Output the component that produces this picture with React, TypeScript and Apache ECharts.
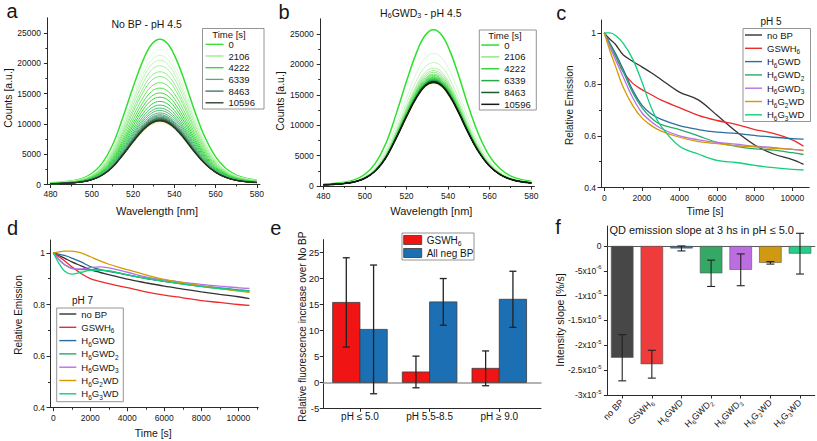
import React, { useEffect, useRef } from 'react';
import * as echarts from 'echarts';

const FONT = '"Liberation Sans", Arial, Helvetica, sans-serif';
const INK = '#161616';
const AXIS = '#2a2a2a';

// ---------- panels a & b : emission spectra ----------
const wavelengths = [480, 485, 490, 495, 500, 505, 510, 515, 520, 525, 529, 533, 537, 541, 545, 550, 555, 560, 565, 570, 575, 580];
const spectrumShape = [0.012, 0.016, 0.024, 0.04, 0.075, 0.145, 0.27, 0.46, 0.67, 0.86, 0.965, 1.0, 0.965, 0.86, 0.71, 0.5, 0.32, 0.19, 0.11, 0.065, 0.042, 0.03];
const wavelengthTicks = [480, 500, 520, 540, 560, 580];
const countTicks = [0, 5000, 10000, 15000, 20000, 25000];
const legendTimes = ['0', '2106', '4222', '6339', '8463', '10596'];
const peaksNoBP = [23960, 22200, 21300, 20500, 19600, 18600, 17800, 16800, 15900, 15100, 14400, 13700, 13100, 12600, 12200, 11800, 11500, 11300, 11100, 10950, 10850, 10750, 10650, 10600, 10550, 10500];
const peaksNoBPLate = [10400, 10300, 10200];
const peaksGWD3 = [25700, 21800, 20300, 19400, 19000, 18700, 18400, 18200, 18000, 17850, 17700, 17600, 17500, 17450, 17400, 17350, 17300, 17250, 17200, 17180, 17150, 17120, 17100, 17080, 17060, 17050];
const peaksGWD3Late = [16900, 16800];

// ---------- panels c & d : relative emission vs time ----------
const compounds = ['no BP', 'GSWH6', 'H6GWD', 'H6GWD2', 'H6GWD3', 'H6G2WD', 'H6G3WD'];
const timeS = [0, 300, 600, 1000, 1500, 2000, 2500, 3000, 4000, 5000, 6000, 7000, 8000, 9000, 10000, 10600];
const timeTicks = [0, 2000, 4000, 6000, 8000, 10000];
const emissionTicks = [0.4, 0.6, 0.8, 1];

const ph5NoBP = [1, 0.975, 0.955, 0.915, 0.89, 0.868, 0.845, 0.82, 0.77, 0.74, 0.68, 0.618, 0.565, 0.53, 0.508, 0.49];
const ph5GSWH6 = [1, 0.955, 0.91, 0.85, 0.805, 0.78, 0.76, 0.74, 0.71, 0.68, 0.66, 0.645, 0.625, 0.61, 0.585, 0.56];
const ph5H6GWD = [1, 0.96, 0.92, 0.86, 0.78, 0.72, 0.685, 0.665, 0.64, 0.625, 0.615, 0.61, 0.602, 0.595, 0.59, 0.588];
const ph5H6GWD2 = [1, 0.955, 0.91, 0.85, 0.77, 0.71, 0.67, 0.645, 0.625, 0.6, 0.575, 0.56, 0.55, 0.545, 0.535, 0.528];
const ph5H6GWD3 = [1, 0.945, 0.895, 0.83, 0.75, 0.69, 0.655, 0.63, 0.6, 0.585, 0.575, 0.568, 0.56, 0.555, 0.548, 0.543];
const ph5H6G2WD = [1, 0.93, 0.87, 0.79, 0.72, 0.67, 0.64, 0.62, 0.595, 0.578, 0.57, 0.562, 0.558, 0.552, 0.548, 0.545];
const ph5H6G3WD = [1, 1.0, 0.99, 0.96, 0.9, 0.81, 0.71, 0.64, 0.56, 0.53, 0.505, 0.497, 0.486, 0.477, 0.47, 0.468];

const ph7NoBP = [1, 0.99, 0.98, 0.965, 0.95, 0.935, 0.925, 0.916, 0.898, 0.884, 0.871, 0.86, 0.849, 0.839, 0.83, 0.823];
const ph7GSWH6 = [1, 0.985, 0.97, 0.946, 0.92, 0.9, 0.89, 0.881, 0.865, 0.849, 0.836, 0.826, 0.815, 0.808, 0.8, 0.797];
const ph7H6GWD = [1, 0.995, 0.99, 0.98, 0.965, 0.947, 0.936, 0.928, 0.915, 0.902, 0.89, 0.88, 0.872, 0.864, 0.857, 0.853];
const ph7H6GWD2 = [1, 0.975, 0.955, 0.94, 0.935, 0.935, 0.933, 0.93, 0.915, 0.9, 0.89, 0.88, 0.87, 0.862, 0.855, 0.851];
const ph7H6GWD3 = [1, 0.975, 0.955, 0.94, 0.938, 0.943, 0.946, 0.942, 0.925, 0.907, 0.895, 0.886, 0.878, 0.871, 0.865, 0.862];
const ph7H6G2WD = [1, 1.004, 1.007, 1.007, 1.0, 0.985, 0.97, 0.956, 0.935, 0.915, 0.897, 0.884, 0.872, 0.862, 0.852, 0.847];
const ph7H6G3WD = [1, 0.96, 0.93, 0.918, 0.925, 0.932, 0.933, 0.93, 0.915, 0.902, 0.89, 0.879, 0.87, 0.862, 0.856, 0.853];

// ---------- panel e ----------
const phGroups = ['pH ≤ 5.0', 'pH 5.5-8.5', 'pH ≥ 9.0'];
const increaseTicks = [-5, 0, 5, 10, 15, 20, 25];
const gswhIncrease = [15.4, 2.0, 2.7];
const gswhIncreaseErr = [8.6, 3.05, 3.35];
const negBpIncrease = [10.2, 15.5, 16.0];
const negBpIncreaseErr = [12.4, 4.5, 5.4];

// ---------- panel f ----------
const slopeTicks = [0, -5e-6, -1e-5, -1.5e-5, -2e-5, -2.5e-5, -3e-5];
const slopes = [-2.25e-5, -2.38e-5, -0.05e-5, -0.55e-5, -0.48e-5, -0.34e-5, -0.155e-5];
const slopeErr = [0.465e-5, 0.28e-5, 0.05e-5, 0.265e-5, 0.32e-5, 0.025e-5, 0.41e-5];

// ---------- styles ----------
const compoundColors = ['#333333', '#ee2a2a', '#2a6e9e', '#2aa865', '#b670e8', '#d69a00', '#13cf7c'];
const barColors = ['#474747', '#ee3b3b', '#2a78c2', '#36a865', '#bc6ee0', '#cf9a12', '#25cc8a'];
const aColors = ['#2fe02f', '#e4fbe0', '#d2f7cc', '#bff3b8', '#a8efa2', '#93ec8c', '#7ee877', '#68e462', '#52e04e', '#3edc3e', '#2bd92f', '#33d04c', '#3cc75c', '#45be6a', '#4cb574', '#52ad7a', '#4ea276', '#48976e', '#428a66', '#3c7e5d', '#367255', '#30654a', '#2b5840', '#264b37', '#213e2e', '#263326'];
const bColors = ['#2be22b', '#d8f8d2', '#c4f3bc', '#b2efaa', '#a1ec98', '#8fe888', '#7ae477', '#66e065', '#55dc55', '#48d84a', '#3ad540', '#33cf45', '#2fc647', '#2cbd48', '#2ab349', '#28a948', '#269b45', '#238c41', '#1f7c3b', '#1b6c35', '#175c2e', '#164a28', '#153a22', '#14301d', '#142618', '#141a14'];
const lateColors = ['#f6f6c4', '#f3f3b8', '#f0f0ac'];

const toRich = (n: string) => n.replace(/([A-Z])(\d)/g, '$1{sub|$2}');
const subStyle = (fs: number) => ({ fontSize: fs * 0.68, fontFamily: FONT, color: INK, verticalAlign: 'bottom' });

function valueAxis(o: any) {
  return {
    type: 'value',
    gridIndex: o.g,
    min: o.min,
    max: o.max,
    interval: o.interval,
    position: o.position,
    axisLine: { show: true, onZero: false, lineStyle: { color: AXIS, width: 1 } },
    axisTick: { show: true, length: 3.5, customValues: o.ticks, lineStyle: { color: AXIS, width: 1 } },
    minorTick: { show: !!o.minor, splitNumber: 2, length: 2, lineStyle: { color: AXIS, width: 1 } },
    splitLine: { show: false },
    minorSplitLine: { show: false },
    axisLabel: {
      show: true,
      customValues: o.ticks,
      fontFamily: FONT,
      fontSize: o.fs,
      color: INK,
      margin: o.margin,
      formatter: o.formatter || ((v: number) => String(v)),
      rich: o.rich,
      lineHeight: o.lineHeight,
    },
  };
}

function spectrumSeries(g: number, name: string, peak: number, color: string, width: number) {
  return {
    type: 'line',
    name,
    xAxisIndex: g,
    yAxisIndex: g,
    data: wavelengths.map((w, k) => [w, Math.round(spectrumShape[k] * peak)]),
    smooth: 0.4,
    symbol: 'none',
    showSymbol: false,
    silent: true,
    lineStyle: { color, width },
    itemStyle: { color },
    emphasis: { disabled: true },
  };
}

function kineticSeries(g: number, prefix: string, rows: number[][]) {
  return compounds.map((c, i) => ({
    type: 'line',
    name: `${prefix}|${c}`,
    xAxisIndex: g,
    yAxisIndex: g,
    data: timeS.map((t, k) => [t, rows[i][k]]),
    smooth: 0.35,
    symbol: 'none',
    showSymbol: false,
    silent: true,
    lineStyle: { color: compoundColors[i], width: 1.3 },
    itemStyle: { color: compoundColors[i] },
    emphasis: { disabled: true },
  }));
}

const errLines = (cx: number, lo: number, hi: number, cap: number, color: string, w: number) => [
  { type: 'line', shape: { x1: cx, y1: lo, x2: cx, y2: hi }, style: { stroke: color, lineWidth: w } },
  { type: 'line', shape: { x1: cx - cap, y1: lo, x2: cx + cap, y2: lo }, style: { stroke: color, lineWidth: w } },
  { type: 'line', shape: { x1: cx - cap, y1: hi, x2: cx + cap, y2: hi }, style: { stroke: color, lineWidth: w } },
];

const groupedBarRender = (offset: number, fill: string) => (params: any, api: any) => {
  const x = api.value(0);
  const v = api.value(1);
  const e = api.value(2);
  const base = api.coord([x, 0]);
  const top = api.coord([x, v]);
  const lo = api.coord([x, v - e]);
  const hi = api.coord([x, v + e]);
  const w = 27.3;
  const cx = base[0] + offset;
  return {
    type: 'group',
    children: [
      { type: 'rect', shape: { x: cx - w / 2, y: Math.min(base[1], top[1]), width: w, height: Math.abs(base[1] - top[1]) }, style: { fill, stroke: '#3a3a3a', lineWidth: 0.8 } },
      ...errLines(cx, lo[1], hi[1], 3.5, '#222', 1.3),
    ],
  };
};

const errorRender = (params: any, api: any) => {
  const x = api.value(0);
  const v = api.value(1);
  const e = api.value(2);
  const lo = api.coord([x, v - e]);
  const hi = api.coord([x, v + e]);
  return { type: 'group', children: errLines(lo[0], lo[1], hi[1], 4, '#222', 1.1) };
};

function T(text: string, x: number, y: number, fs: number, opt: any = {}) {
  return {
    type: 'text',
    x,
    y,
    rotation: opt.rot ? Math.PI / 2 : 0,
    silent: true,
    z: 10,
    style: {
      text,
      fontFamily: FONT,
      fontSize: fs,
      fill: INK,
      align: 'center',
      verticalAlign: 'middle',
      textAlign: 'center',
      textVerticalAlign: 'middle',
      lineHeight: opt.lh,
      rich: opt.rich,
    },
  };
}

const box = (x: number, y: number, w: number, h: number) => ({
  type: 'rect',
  z: 3,
  silent: true,
  shape: { x, y, width: w, height: h },
  style: { fill: '#ffffff', stroke: '#7a7a7a', lineWidth: 0.8 },
});

function legendBase(left: number, top: number, lh: number, names: string[], iw: number, ih: number, fs: number, extra: any = {}) {
  return {
    show: true,
    selectedMode: false,
    orient: 'vertical',
    left,
    top,
    padding: 0,
    itemGap: 0,
    itemWidth: iw,
    itemHeight: ih,
    icon: 'rect',
    z: 6,
    data: names,
    formatter: (n: string) => toRich(n.split('|')[1]),
    textStyle: { fontFamily: FONT, fontSize: fs, color: INK, lineHeight: lh, rich: { sub: subStyle(fs) } },
    ...extra,
  };
}

function buildOption() {
  const grid = [
    { left: 47.4, top: 17.8, width: 212.6, height: 166.7 },
    { left: 320.2, top: 18.8, width: 214.2, height: 167.2 },
    { left: 601, top: 20, width: 208.2, height: 167.5 },
    { left: 50, top: 240, width: 208.3, height: 167.7 },
    { left: 323.3, top: 239.6, width: 217.7, height: 168.7 },
    { left: 607.4, top: 226.1, width: 207.4, height: 168.9 },
  ];

  const xAxis: any[] = [
    valueAxis({ g: 0, min: 478.5, max: 581.5, ticks: wavelengthTicks, fs: 8.5, margin: 5, minor: true }),
    valueAxis({ g: 1, min: 478.5, max: 581.5, ticks: wavelengthTicks, fs: 8.5, margin: 5, minor: true }),
    valueAxis({ g: 2, min: -175, max: 10900, ticks: timeTicks, fs: 8.5, margin: 5.5, minor: true }),
    valueAxis({ g: 3, min: -178, max: 11080, ticks: timeTicks, fs: 8.5, margin: 5.5, minor: true }),
    valueAxis({ g: 4, min: -0.526, max: 2.599, ticks: [0, 1, 2], fs: 10, margin: 3, position: 'bottom', formatter: (v: number) => phGroups[Math.round(v)] }),
    {
      type: 'category',
      gridIndex: 5,
      data: compounds,
      position: 'bottom',
      axisLine: { show: true, onZero: false, lineStyle: { color: AXIS, width: 1 } },
      axisTick: { show: true, alignWithLabel: true, length: 3.5, lineStyle: { color: AXIS } },
      splitLine: { show: false },
      axisLabel: { interval: 0, rotate: 45, fontFamily: FONT, fontSize: 9, color: INK, margin: 6, lineHeight: 11.5, formatter: (v: string) => toRich(v), rich: { sub: subStyle(9) } },
    },
    {
      type: 'value', gridIndex: 4, min: -0.526, max: 2.599, position: 'top',
      axisLine: { show: true, onZero: true, lineStyle: { color: '#9a9a9a', width: 1.5 } },
      axisTick: { show: false }, axisLabel: { show: false }, splitLine: { show: false },
    },
    {
      type: 'category', gridIndex: 5, data: compounds, position: 'top',
      axisLine: { show: true, onZero: true, lineStyle: { color: '#5a5a5a', width: 1 } },
      axisTick: { show: false }, axisLabel: { show: false }, splitLine: { show: false },
    },
  ];

  const yAxis: any[] = [
    valueAxis({ g: 0, min: 0, max: 27500, ticks: countTicks, fs: 8.5, margin: 6.5, minor: true }),
    valueAxis({ g: 1, min: 0, max: 27500, ticks: countTicks, fs: 8.5, margin: 6.5, minor: true }),
    valueAxis({ g: 2, min: 0.4, max: 1.05, interval: 0.2, ticks: emissionTicks, fs: 8.5, margin: 5, minor: true }),
    valueAxis({ g: 3, min: 0.4, max: 1.05, interval: 0.2, ticks: emissionTicks, fs: 8.5, margin: 5, minor: true }),
    valueAxis({ g: 4, min: -5, max: 27.5, interval: 5, ticks: increaseTicks, fs: 9.5, margin: 4 }),
    valueAxis({
      g: 5, min: -3e-5, max: 4e-6, interval: 5e-6, ticks: slopeTicks, fs: 8.5, margin: 6, lineHeight: 13,
      formatter: (v: number) => {
        const k = Math.round(v * 1e6);
        if (k === 0) return '0';
        if (k === -5) return '-5x10{sup|-6}';
        return `${k / 10}x10{sup|-5}`;
      },
      rich: { sup: { fontSize: 5.8, fontFamily: FONT, color: INK, verticalAlign: 'top' } },
    }),
  ];

  const series: any[] = [];
  // panel a
  peaksNoBPLate.forEach((p, k) => series.push(spectrumSeries(0, `a|late${k}`, p, lateColors[k], 1)));
  peaksNoBP.forEach((p, i) => {
    const name = i % 5 === 0 ? `a|${legendTimes[i / 5]}` : `a|t${i}`;
    series.push(spectrumSeries(0, name, p, aColors[i], i === 0 ? 1.5 : i === 25 ? 1.3 : 1));
  });
  // panel b
  peaksGWD3Late.forEach((p, k) => series.push(spectrumSeries(1, `b|late${k}`, p, lateColors[k], 1)));
  peaksGWD3.forEach((p, i) => {
    const name = i % 5 === 0 ? `b|${legendTimes[i / 5]}` : `b|t${i}`;
    series.push(spectrumSeries(1, name, p, bColors[i], i === 0 ? 1.5 : i === 25 ? 1.6 : 1));
  });
  // panels c, d
  series.push(...kineticSeries(2, 'c', [ph5NoBP, ph5GSWH6, ph5H6GWD, ph5H6GWD2, ph5H6GWD3, ph5H6G2WD, ph5H6G3WD]));
  series.push(...kineticSeries(3, 'd', [ph7NoBP, ph7GSWH6, ph7H6GWD, ph7H6GWD2, ph7H6GWD3, ph7H6G2WD, ph7H6G3WD]));
  // panel e
  series.push({
    type: 'custom', name: 'e|GSWH6', xAxisIndex: 4, yAxisIndex: 4, silent: true, clip: false,
    itemStyle: { color: '#f01414' },
    data: phGroups.map((_, i) => [i, gswhIncrease[i], gswhIncreaseErr[i]]),
    renderItem: groupedBarRender(-13.65, '#f01414'),
  });
  series.push({
    type: 'custom', name: 'e|All neg BP', xAxisIndex: 4, yAxisIndex: 4, silent: true, clip: false,
    itemStyle: { color: '#1d6fb3' },
    data: phGroups.map((_, i) => [i, negBpIncrease[i], negBpIncreaseErr[i]]),
    renderItem: groupedBarRender(13.65, '#1d6fb3'),
  });
  // panel f
  series.push({
    type: 'bar', name: 'f|slope', xAxisIndex: 5, yAxisIndex: 5, barWidth: 22.5, silent: true,
    data: slopes.map((v, i) => ({ value: v, itemStyle: { color: barColors[i], borderColor: '#555', borderWidth: 0.6 } })),
    emphasis: { disabled: true },
  });
  series.push({
    type: 'custom', name: 'f|err', xAxisIndex: 5, yAxisIndex: 5, silent: true, clip: false, z: 5,
    data: slopes.map((v, i) => [i, v, slopeErr[i]]),
    renderItem: errorRender,
  });

  const legend = [
    legendBase(205.5, 38.45, 11.7, legendTimes.map((t) => `a|${t}`), 18, 1.3, 9.5),
    legendBase(481.3, 39.1, 11.86, legendTimes.map((t) => `b|${t}`), 18, 1.5, 9.5),
    legendBase(745, 28.35, 13.3, compounds.map((c) => `c|${c}`), 17, 1.4, 9.5),
    legendBase(59.3, 307.35, 13.3, compounds.map((c) => `d|${c}`), 17, 1.4, 9.5),
    legendBase(403.3, 233.5, 13, [], 18, 9, 10, {
      data: [
        { name: 'e|GSWH6', icon: 'rect', itemStyle: { color: '#f01414', borderColor: '#3a3a3a', borderWidth: 0.8 } },
        { name: 'e|All neg BP', icon: 'rect', itemStyle: { color: '#1d6fb3', borderColor: '#3a3a3a', borderWidth: 0.8 } },
      ],
    }),
  ];

  const rich10 = { sub: subStyle(10.5) };
  const graphic = [
    box(202.5, 28.5, 61.5, 80.5),
    box(479.3, 30, 57, 80),
    box(743, 28.5, 67.5, 93),
    box(56.7, 308, 66.6, 93.7),
    box(402, 233, 72, 27),
    T('a', 12, 11, 20),
    T('b', 284, 11.7, 20),
    T('c', 561.3, 12.5, 20),
    T('d', 12.5, 227.5, 20),
    T('e', 275.8, 228.3, 20),
    T('f', 558, 226.7, 20),
    T('No BP - pH 4.5', 146.7, 24.3, 10.5),
    T('H{sub|6}GWD{sub|3} - pH 4.5', 420.8, 13.3, 10.5, { lh: 13, rich: rich10 }),
    T('QD emission slope at 3 hs in pH ≤ 5.0', 701.7, 230, 11),
    T('Wavelength [nm]', 157, 210.7, 11),
    T('Counts [a.u.]', 7.5, 98, 10.5, { rot: true }),
    T('Wavelength [nm]', 431.3, 210.7, 11),
    T('Counts [a.u.]', 280.3, 101, 10.5, { rot: true }),
    T('Relative Emission', 569, 105.3, 10, { rot: true }),
    T('Time [s]', 705, 210.7, 10.5),
    T('Relative Emission', 18.8, 315, 10, { rot: true }),
    T('Time [s]', 153.3, 433.3, 10.5),
    T('Relative fluorescence increase over No BP', 302.5, 326.7, 10, { rot: true }),
    T('Intensity slope [%/s]', 560, 320, 10.5, { rot: true }),
    T('Time [s]', 229, 34, 9.5),
    T('Time [s]', 505, 35, 9.5),
    T('pH 5', 771, 21.7, 10),
    T('pH 7', 82.5, 300, 10),
  ];

  return {
    animation: false,
    backgroundColor: '#ffffff',
    textStyle: { fontFamily: FONT },
    grid,
    xAxis,
    yAxis,
    legend,
    series,
    graphic,
  };
}

export default function App() {
  const ref = useRef<HTMLDivElement>(null);
  useEffect(() => {
    if (!ref.current) return;
    const chart = echarts.init(ref.current, null, { renderer: 'svg' });
    chart.setOption(buildOption() as any);
    return () => chart.dispose();
  }, []);
  return (
    <div
      ref={ref}
      style={{ position: 'fixed', left: 0, top: 0, width: 817, height: 441, background: '#ffffff' }}
    />
  );
}
